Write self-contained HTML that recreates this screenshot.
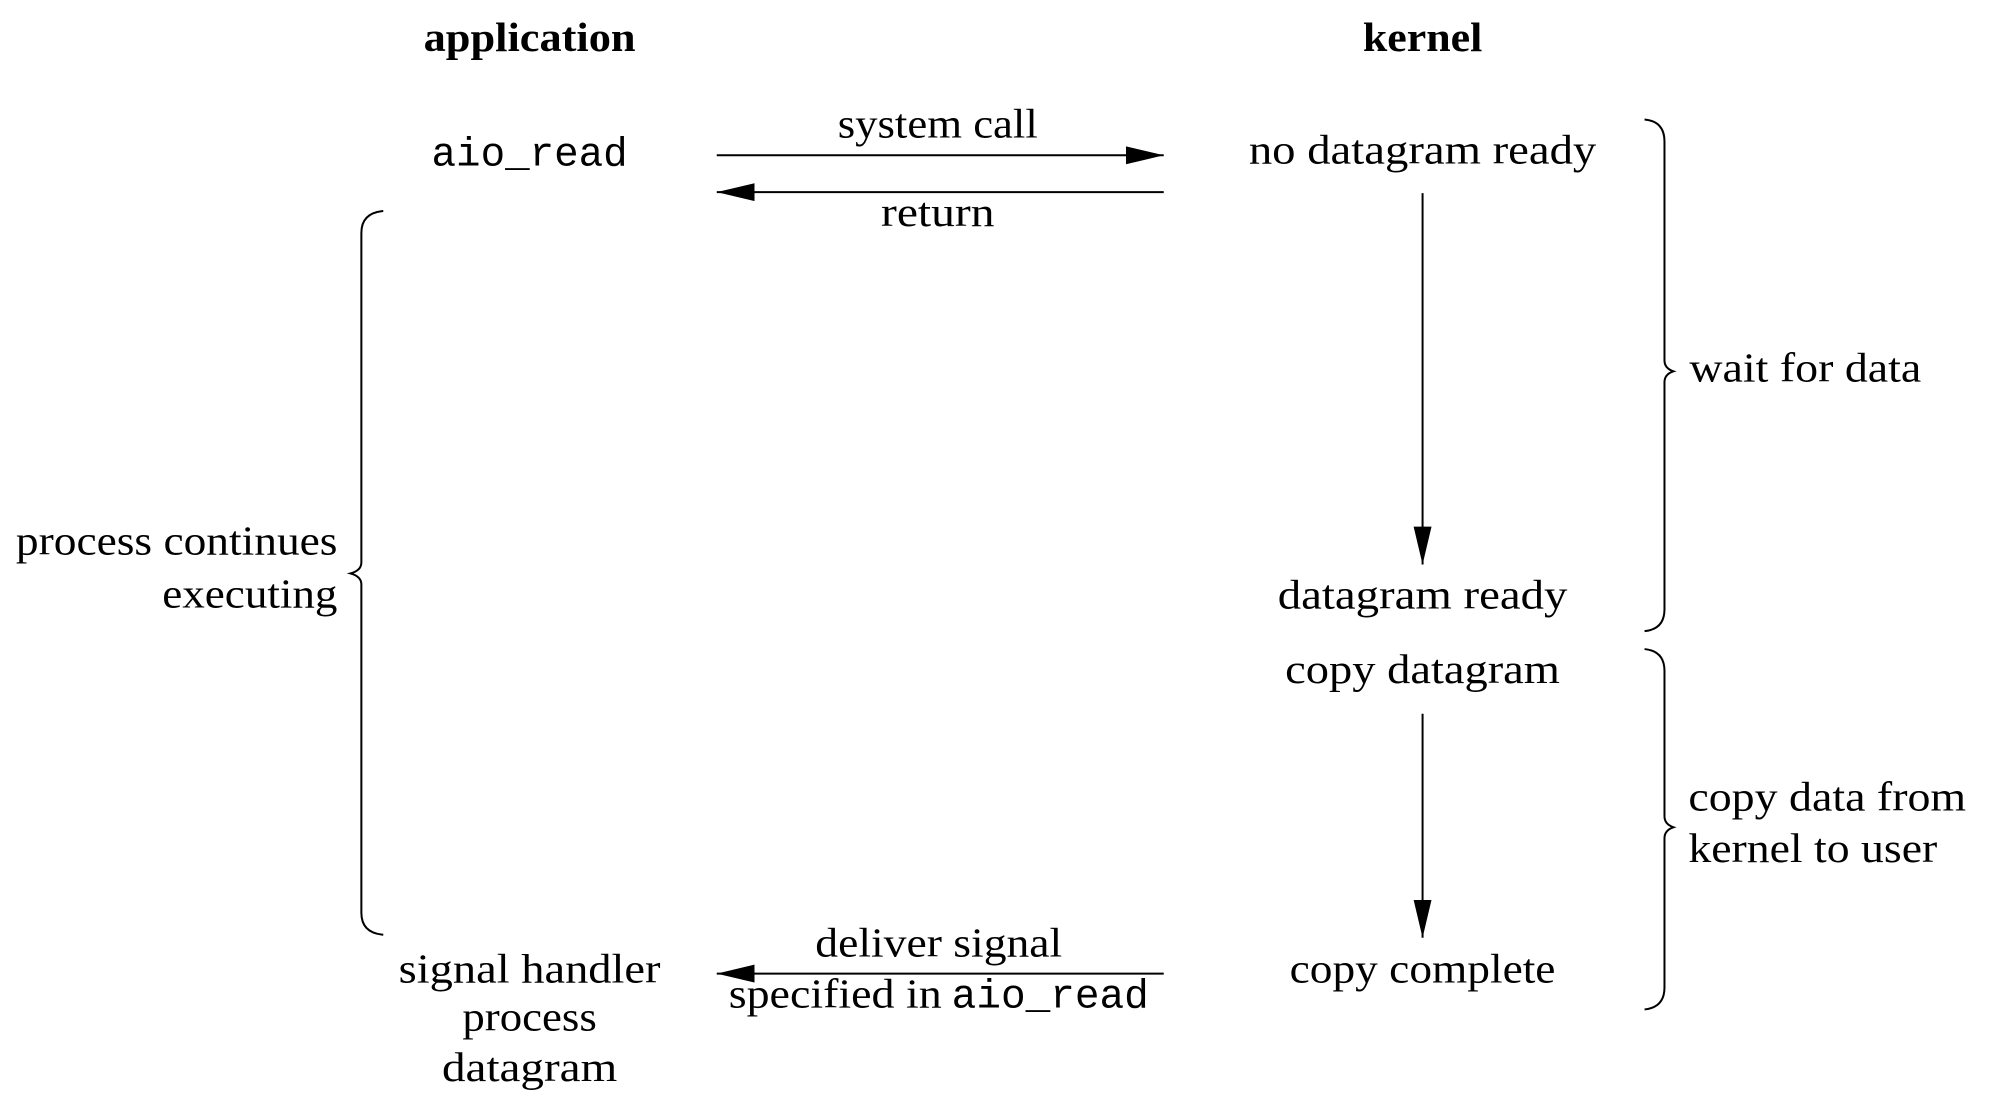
<!DOCTYPE html>
<html><head><meta charset="utf-8"><style>html,body{margin:0;padding:0;background:#fff}svg{display:block}</style></head>
<body>
<svg width="1994" height="1108" viewBox="0 0 1994 1108" xmlns="http://www.w3.org/2000/svg">
<defs>
<marker id="ah" markerWidth="40" markerHeight="20" refX="38" refY="9" orient="auto" markerUnits="userSpaceOnUse">
<path d="M0,0 L38,9 L0,18 Z" fill="#000"/>
</marker>
</defs>
<g transform="scale(0.9955)">
<g font-family="'Liberation Serif', serif" font-size="41" fill="#000" text-anchor="middle">
<text x="532" y="51" font-weight="bold" textLength="213" lengthAdjust="spacingAndGlyphs">application</text>
<text x="1429" y="51" font-weight="bold" textLength="120" lengthAdjust="spacingAndGlyphs">kernel</text>
<text x="532" y="166" font-family="'Liberation Mono', monospace" textLength="197" lengthAdjust="spacingAndGlyphs">aio_read</text>
<text x="942" y="138" textLength="201" lengthAdjust="spacingAndGlyphs">system call</text>
<text x="942" y="227" textLength="114" lengthAdjust="spacingAndGlyphs">return</text>
<text x="1429" y="164" textLength="349" lengthAdjust="spacingAndGlyphs">no datagram ready</text>
<text x="1429" y="611" textLength="291" lengthAdjust="spacingAndGlyphs">datagram ready</text>
<text x="1429" y="686" textLength="276" lengthAdjust="spacingAndGlyphs">copy datagram</text>
<text x="1429" y="987" textLength="267" lengthAdjust="spacingAndGlyphs">copy complete</text>
<text x="532" y="987" textLength="263" lengthAdjust="spacingAndGlyphs">signal handler</text>
<text x="532" y="1035" textLength="135" lengthAdjust="spacingAndGlyphs">process</text>
<text x="532" y="1086" textLength="176" lengthAdjust="spacingAndGlyphs">datagram</text>
<text x="943" y="961" textLength="248" lengthAdjust="spacingAndGlyphs">deliver signal</text>
<text x="839" y="1012" textLength="214" lengthAdjust="spacingAndGlyphs">specified in</text>
<text x="1055" y="1012" font-family="'Liberation Mono', monospace" textLength="198" lengthAdjust="spacingAndGlyphs">aio_read</text>
</g>
<g font-family="'Liberation Serif', serif" font-size="41" fill="#000">
<text x="1697" y="383" textLength="233" lengthAdjust="spacingAndGlyphs">wait for data</text>
<text x="1696" y="814" textLength="279" lengthAdjust="spacingAndGlyphs">copy data from</text>
<text x="1696" y="866" textLength="250" lengthAdjust="spacingAndGlyphs">kernel to user</text>
<text x="339" y="557" text-anchor="end" textLength="323" lengthAdjust="spacingAndGlyphs">process continues</text>
<text x="339" y="610" text-anchor="end" textLength="176" lengthAdjust="spacingAndGlyphs">executing</text>
</g>
<g stroke="#000" stroke-width="2" fill="none">
<line x1="720" y1="156" x2="1169" y2="156" marker-end="url(#ah)"/>
<line x1="1169" y1="193" x2="720" y2="193" marker-end="url(#ah)"/>
<line x1="1429" y1="194" x2="1429" y2="567" marker-end="url(#ah)"/>
<line x1="1429" y1="717" x2="1429" y2="942" marker-end="url(#ah)"/>
<line x1="1169" y1="978" x2="720" y2="978" marker-end="url(#ah)"/>
<path d="M1652,120 Q1672,122 1672,142 L1672,362 Q1672,370 1681,373 Q1672,376 1672,384 L1672,612 Q1672,632 1652,634"/>
<path d="M1652,652 Q1672,654 1672,674 L1672,820 Q1672,828 1681,831 Q1672,834 1672,842 L1672,992 Q1672,1012 1652,1014"/>
<path d="M385,212 Q363,214 363,234 L363,565 Q363,573 352,576 Q363,579 363,587 L363,917 Q363,937 385,939"/>
</g>
</g>
</svg>
</body></html>
